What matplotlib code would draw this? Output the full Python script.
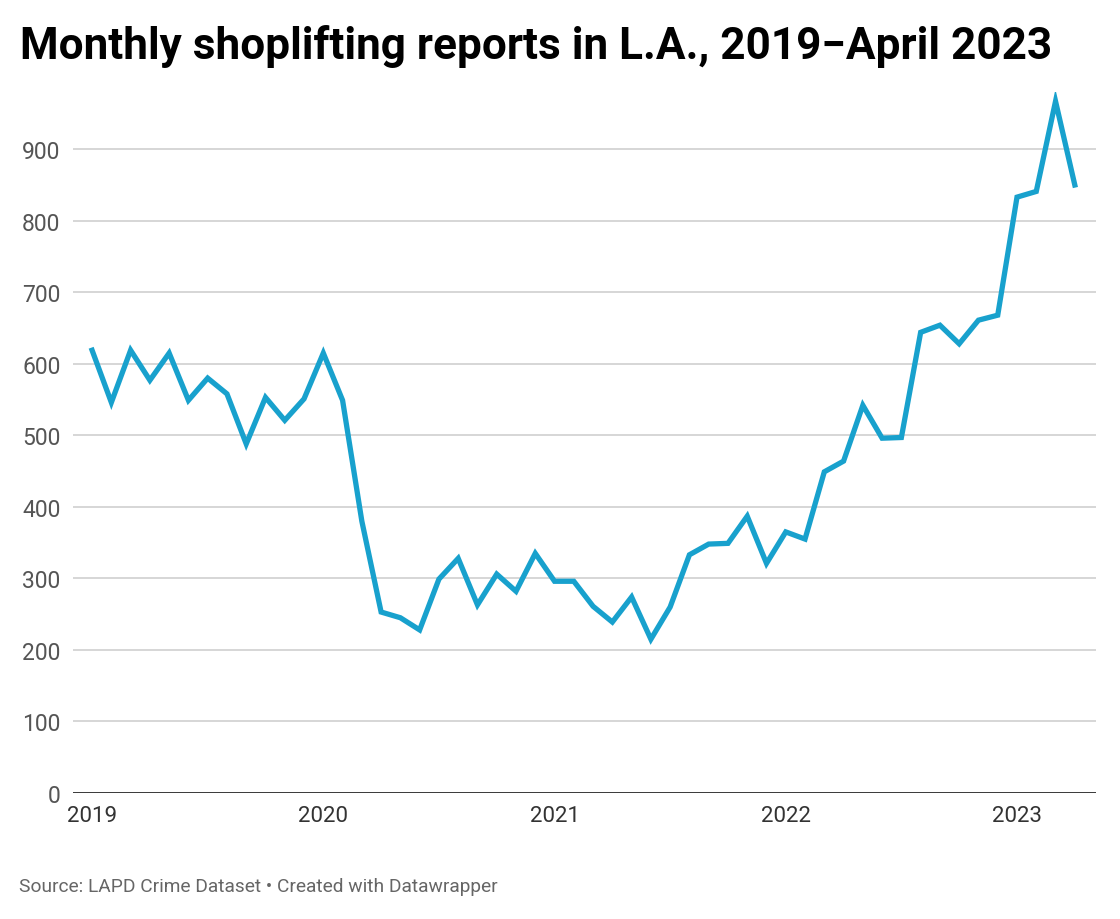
import matplotlib
matplotlib.use("Agg")
import matplotlib.pyplot as plt
import numpy as np

months = np.arange(52)  # Jan 2019 .. Apr 2023
reports = [619, 546, 619, 577, 615, 549, 580, 558, 488, 553, 521, 551,
           615, 549, 380, 253, 245, 228, 299, 328, 263, 306, 282, 335,
           296, 296, 261, 239, 274, 215, 260, 333, 348, 349, 387, 321,
           365, 355, 449, 464, 542, 496, 497, 644, 654, 628, 661, 668,
           833, 841, 967, 850]
year_labels = ["2019", "2020", "2021", "2022", "2023"]
year_pos = [0, 12, 24, 36, 48]
y_ticks = [0, 100, 200, 300, 400, 500, 600, 700, 800, 900]

plt.rcParams['font.family'] = ['Roboto', 'DejaVu Sans']

fig = plt.figure(figsize=(11.2, 9.2), dpi=100)
L, R, T, B = 73, 1096, 93, 794
ax = fig.add_axes([L/1120, 1 - B/920, (R-L)/1120, (B-T)/920])

ax.plot(months, reports, color="#18a1cd", lw=3.8, solid_joinstyle="miter", zorder=3)

ax.set_xlim(-0.99, 52.1)
ax.set_ylim(0, 980)
ax.set_yticks(y_ticks)
ax.set_yticklabels([str(v) for v in y_ticks])
ax.set_xticks(year_pos)
ax.set_xticklabels(year_labels)

for v in y_ticks[1:]:
    ax.axhline(v, color="#d6d6d6", lw=1.4, zorder=1)
ax.axhline(0, color="#141414", lw=1.9, zorder=4)

for s in ax.spines.values():
    s.set_visible(False)
ax.tick_params(axis="y", length=0, pad=9, labelsize=16.5, labelcolor="#555555")
ax.tick_params(axis="x", length=0, pad=9, labelsize=16, labelcolor="#333333")

fig.text(20/1120, 1 - 47/920, "Monthly shoplifting reports in L.A., 2019\u2212April 2023",
         fontsize=31.8, fontweight="bold", color="#000000", va="center", ha="left")
fig.text(19/1120, 1 - 887/920, "Source: LAPD Crime Dataset \u2022 Created with Datawrapper",
         fontsize=13.8, color="#666666", va="center", ha="left")

fig.savefig("out.png", dpi=100)
